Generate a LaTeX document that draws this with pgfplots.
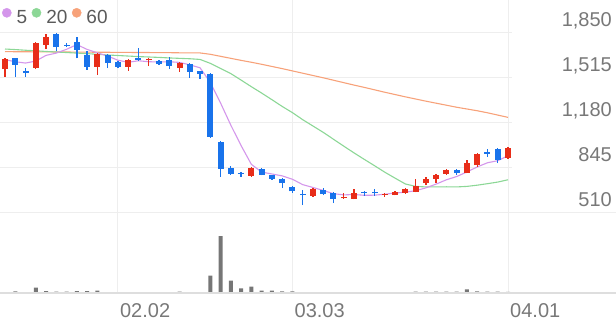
\documentclass[border=0pt]{standalone}
\usepackage{pgfplots}
\pgfplotsset{compat=1.18}
\usepackage{pgfplotstable}
\usepackage{fontspec}
\setmainfont{Liberation Sans}
\definecolor{cred}{RGB}{232,45,25}
\definecolor{cblue}{RGB}{25,115,235}
\definecolor{maA}{RGB}{212,150,235}
\definecolor{maB}{RGB}{140,215,150}
\definecolor{maC}{RGB}{247,162,122}
\definecolor{gridc}{RGB}{238,238,238}
\definecolor{basec}{RGB}{222,222,222}
\definecolor{labc}{RGB}{120,120,120}
\definecolor{legc}{RGB}{90,90,90}
\definecolor{volc}{RGB}{118,118,118}

\pgfplotstableread{
i o h l c
0 1576 1655 1517 1650
3 1583 1776 1576 1769
4 1754 1835 1724 1813
9 1591 1692 1532 1687
12 1591 1648 1565 1643
14 1640 1658 1598 1650
17 1583 1625 1554 1620
24 784 848 780 843
30 636 695 632 688
33 618 658 614 625
34 614 688 610 658
37 646 658 629 653
38 643 670 640 666
39 658 695 651 688
40 666 762 662 710
41 732 777 717 762
42 762 797 732 792
43 799 833 795 829
45 806 902 803 880
46 865 951 851 947
49 917 995 913 991
}\up

\pgfplotstableread{
i o h l c
1 1655 1660 1517 1606
2 1561 1583 1517 1545
5 1835 1843 1709 1739
6 1756 1769 1739 1746
7 1776 1810 1655 1717
8 1680 1710 1569 1591
10 1680 1690 1583 1620
11 1628 1633 1583 1591
13 1658 1732 1635 1645
15 1635 1643 1606 1613
16 1643 1665 1576 1598
18 1613 1620 1510 1554
19 1561 1565 1503 1539
20 1539 1545 1068 1073
21 1036 1043 777 836
22 843 858 795 799
23 803 814 777 797
25 838 843 788 792
26 792 795 758 762
27 762 766 695 732
28 703 710 658 670
29 651 680 569 643
31 680 695 643 651
32 658 662 584 614
35 662 673 636 655
36 662 688 636 656
44 829 833 792 806
47 958 984 925 950
48 984 988 880 902
}\down

\pgfplotstableread{
i ma5 ma20 ma60
0 1645 1724 1705
1 1630 1720 1704
2 1620 1715 1704
3 1635 1711 1703
4 1677 1706 1703
5 1694 1702 1702
6 1722 1698 1702
7 1757 1694 1701
8 1721 1690 1701
9 1696 1685 1700
10 1672 1680 1700
11 1641 1676 1699
12 1626 1672 1699
13 1637 1668 1698
14 1630 1665 1698
15 1628 1662 1697
16 1630 1658 1697
17 1625 1655 1696
18 1607 1652 1696
19 1585 1647 1695
20 1477 1618 1685
21 1324 1580 1670
22 1160 1542 1655
23 1009 1494 1640
24 870 1445 1626
25 813 1398 1611
26 799 1349 1595
27 785 1299 1579
28 760 1253 1562
29 720 1201 1545
30 699 1154 1528
31 677 1107 1511
32 653 1056 1493
33 644 1005 1475
34 647 955 1457
35 641 907 1440
36 642 860 1422
37 649 812 1404
38 658 768 1387
39 664 725 1370
40 675 707 1354
41 696 703 1338
42 724 703 1323
43 756 704 1308
44 780 703 1293
45 814 707 1280
46 851 716 1267
47 882 727 1252
48 897 739 1235
49 934 756 1218
}\ma

\pgfplotstableread{
i v
0 1000
1 1700
2 1000
3 5300
4 2000
5 1300
6 1300
7 2000
8 2000
9 2300
10 800
11 600
12 800
13 800
14 800
15 600
16 600
17 1300
18 800
19 800
20 17500
21 57000
22 12300
23 4700
24 6300
25 2300
26 2300
27 1700
28 1700
29 800
30 800
31 800
32 1000
33 600
34 800
35 600
36 600
37 600
38 800
39 1000
40 1500
41 1500
42 1300
43 1500
44 1500
45 3700
46 1700
47 1500
48 1500
49 1200
}\vol

\begin{document}
\begin{tikzpicture}
\path[use as bounding box] (0,0) rectangle (616bp,321bp);
\begin{axis}[
  at={(0bp,108bp)}, anchor=south west, scale only axis,
  width=512bp, height=213bp,
  xmin=-0.487, xmax=49.39, ymin=510, ymax=2087,
  axis line style={draw=none}, major tick length=0pt,
  xtick={11,28,49}, xticklabels={}, xmajorgrids,
  ytick={510,845,1180,1515,1850},
  yticklabels={510,845,{1,180},{1,515},{1,850}},
  ymajorgrids, grid style={gridc, line width=1bp},
  yticklabel pos=right,
  yticklabel style={anchor=base east, xshift=100bp, yshift=6bp, inner sep=0pt,
    font=\fontsize{20bp}{24bp}\selectfont, text=labc},
  legend style={at={(axis description cs:0,1)}, anchor=north west, draw=none, fill=none,
    inner sep=0pt, outer sep=0pt, xshift=2bp, yshift=-8bp,
    font=\fontsize{19bp}{22bp}\selectfont, text=legc,
    nodes={inner sep=0pt},
    /tikz/every odd column/.style={column sep=5bp},
    /tikz/every even column/.style={column sep=4.5bp}},
  legend columns=3, legend cell align=left,
  cbar/.style={draw=none, mark=none, forget plot, error bars/.cd, y dir=plus, y explicit,
    error mark=none},
]
\addlegendimage{legend image code/.code={\fill[maA] (4.5bp,5bp) circle (4.6bp);}}
\addlegendentry{5}
\addlegendimage{legend image code/.code={\fill[maB] (4.5bp,5bp) circle (4.6bp);}}
\addlegendentry{20}
\addlegendimage{legend image code/.code={\fill[maC] (4.5bp,5bp) circle (4.6bp);}}
\addlegendentry{60}

\addplot[maC, line width=1.1bp, forget plot] table[x=i, y=ma60] {\ma};
\addplot[maB, line width=1.1bp, forget plot] table[x=i, y=ma20] {\ma};
\addplot[maA, line width=1.1bp, forget plot] table[x=i, y=ma5] {\ma};

\addplot[cbar, error bar style={draw=cred, line width=1.3bp}]
  table[x=i, y=l, y error expr=\thisrow{h}-\thisrow{l}] {\up};
\addplot[cbar, error bar style={draw=cred, line width=6bp}]
  table[x=i, y=o, y error expr={max(\thisrow{c}-\thisrow{o},8)}] {\up};
\addplot[cbar, error bar style={draw=cblue, line width=1.3bp}]
  table[x=i, y=l, y error expr=\thisrow{h}-\thisrow{l}] {\down};
\addplot[cbar, error bar style={draw=cblue, line width=6bp}]
  table[x=i, y=c, y error expr={max(\thisrow{o}-\thisrow{c},8)}] {\down};
\end{axis}

\begin{axis}[
  at={(0bp,28bp)}, anchor=south west, scale only axis,
  width=512bp, height=80bp,
  xmin=-0.487, xmax=49.39, ymin=0, ymax=80000,
  axis line style={draw=none}, major tick length=0pt,
  ytick=\empty,
  xtick={11,28,49}, xticklabels={02.02,03.03,04.01}, xmajorgrids,
  grid style={gridc, line width=1bp},
  xticklabel style={anchor=base west, xshift=2bp, yshift=-24bp, inner sep=0pt,
    font=\fontsize{20bp}{24bp}\selectfont, text=labc},
]
\addplot[ybar, bar width=4bp, fill=volc, draw=none] table[x=i, y=v] {\vol};
\end{axis}
\draw[gridc, line width=1bp] (512bp,108bp) -- (616bp,108bp);
\draw[basec, line width=1.6bp] (0bp,28bp) -- (616bp,28bp);
\end{tikzpicture}
\end{document}
